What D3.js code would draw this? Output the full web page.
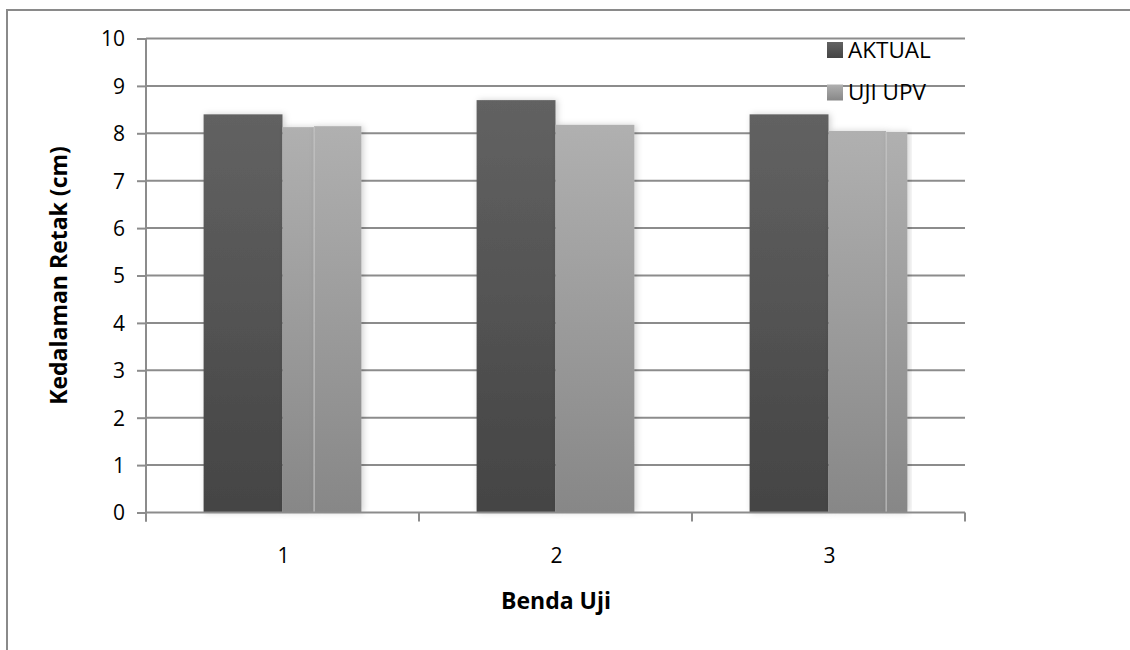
<!DOCTYPE html>
<html>
<head>
<meta charset="utf-8">
<script src="https://cdn.jsdelivr.net/npm/d3@7"></script>
<style>
  html, body { margin: 0; padding: 0; background: #fff; }
  svg { display: block; }
  text { font-family: "Open Sans", "Liberation Sans", sans-serif; fill: #000; }
</style>
</head>
<body>
<svg id="chart" width="1130" height="650"></svg>
<script>
// ---- data ----
const categories = ["1", "2", "3"];
const seriesNames = ["AKTUAL", "UJI UPV"];
const aktual = [8.4, 8.7, 8.4];
const ujiUpv = [8.13, 8.18, 8.05];
// second, overlapping UPV reading drawn on part of the UJI UPV bar
const ujiUpv2 = [8.15, null, 8.03];
const yTicks = [0, 1, 2, 3, 4, 5, 6, 7, 8, 9, 10];
const xTitle = "Benda Uji";
const yTitle = "Kedalaman Retak (cm)";

// ---- layout ----
const svg = d3.select("#chart");
const plot = { left: 146, right: 965, top: 38.5, bottom: 512.5 };
const overlapStart = [0.4, 0, 0.73]; // where the 2nd UPV reading starts inside the bar (fraction)

const x0 = d3.scaleBand().domain(categories).range([plot.left, plot.right]).padding(0);
const x1 = d3.scaleBand().domain(seriesNames).range([0, x0.bandwidth()])
  .paddingInner(0).paddingOuter(0.73);
const y = d3.scaleLinear().domain([0, 10]).range([plot.bottom, plot.top]);

const defs = svg.append("defs");
function grad(id, top, bottom) {
  const g = defs.append("linearGradient").attr("id", id)
    .attr("x1", 0).attr("y1", 0).attr("x2", 0).attr("y2", 1);
  g.append("stop").attr("offset", "0%").attr("stop-color", top);
  g.append("stop").attr("offset", "100%").attr("stop-color", bottom);
}
grad("gDark", "#626262", "#444444");
grad("gLight", "#b0b0b0", "#878787");
const f = defs.append("filter").attr("id", "shadow")
  .attr("x", "-20%").attr("y", "-5%").attr("width", "140%").attr("height", "110%");
f.append("feDropShadow").attr("dx", 2).attr("dy", 0).attr("stdDeviation", 3)
  .attr("flood-color", "#000").attr("flood-opacity", 0.18);

// frame
svg.append("rect").attr("x", 7).attr("y", 10).attr("width", 1140).attr("height", 660)
  .attr("fill", "#fff").attr("stroke", "#8a8a8a").attr("stroke-width", 2);

// gridlines
svg.append("g").selectAll("line").data(yTicks.filter(d => d > 0)).join("line")
  .attr("x1", plot.left).attr("x2", plot.right)
  .attr("y1", d => y(d)).attr("y2", d => y(d))
  .attr("stroke", "#8c8c8c").attr("stroke-width", 2);

// y axis
const yAxis = d3.axisLeft(y).tickValues(yTicks).tickSize(9).tickPadding(12).tickFormat(d3.format("d"));
const gy = svg.append("g").attr("transform", `translate(${plot.left},0)`).call(yAxis);
gy.select(".domain").remove();
gy.selectAll(".tick line").attr("stroke", "#8c8c8c").attr("stroke-width", 2);
gy.selectAll(".tick text").style("font-size", "21px").attr("dy", "0.35em");
svg.append("line").attr("x1", plot.left).attr("x2", plot.left)
  .attr("y1", plot.top).attr("y2", plot.bottom + 9)
  .attr("stroke", "#8c8c8c").attr("stroke-width", 2);

// bars
const gBars = svg.append("g");
categories.forEach((c, i) => {
  const bx = x0(c);
  gBars.append("rect")
    .attr("x", bx + x1("AKTUAL")).attr("y", y(aktual[i]))
    .attr("width", x1.bandwidth()).attr("height", y(0) - y(aktual[i]))
    .attr("fill", "url(#gDark)").attr("filter", "url(#shadow)");
  const ux = bx + x1("UJI UPV");
  const w = x1.bandwidth();
  if (ujiUpv2[i] == null) {
    gBars.append("rect")
      .attr("x", ux).attr("y", y(ujiUpv[i]))
      .attr("width", w).attr("height", y(0) - y(ujiUpv[i]))
      .attr("fill", "url(#gLight)").attr("filter", "url(#shadow)");
  } else {
    const split = ux + w * overlapStart[i];
    gBars.append("rect")
      .attr("x", ux).attr("y", y(ujiUpv[i]))
      .attr("width", split - ux).attr("height", y(0) - y(ujiUpv[i]))
      .attr("fill", "url(#gLight)").attr("filter", "url(#shadow)");
    gBars.append("rect")
      .attr("x", split).attr("y", y(ujiUpv2[i]))
      .attr("width", ux + w - split).attr("height", y(0) - y(ujiUpv2[i]))
      .attr("fill", "url(#gLight)").attr("filter", "url(#shadow)");
    gBars.append("line")
      .attr("x1", split).attr("x2", split)
      .attr("y1", y(Math.min(ujiUpv[i], ujiUpv2[i]))).attr("y2", y(0))
      .attr("stroke", "#c8c8c8").attr("stroke-width", 1);
  }
});

// x axis
const boundaries = categories.map(c => x0(c)).concat([plot.right]);
svg.append("line").attr("x1", plot.left).attr("x2", plot.right)
  .attr("y1", plot.bottom).attr("y2", plot.bottom)
  .attr("stroke", "#8c8c8c").attr("stroke-width", 2);
svg.append("g").selectAll("line").data(boundaries).join("line")
  .attr("x1", d => d).attr("x2", d => d)
  .attr("y1", plot.bottom).attr("y2", plot.bottom + 9)
  .attr("stroke", "#8c8c8c").attr("stroke-width", 2);
svg.append("g").selectAll("text").data(categories).join("text")
  .attr("x", d => x0(d) + x0.bandwidth() / 2 + 1)
  .attr("y", 563)
  .attr("text-anchor", "middle").style("font-size", "21px")
  .text(d => d);

// axis titles
svg.append("text").attr("x", 556).attr("y", 609).attr("text-anchor", "middle")
  .style("font-size", "23px").style("font-weight", "bold").text(xTitle);
svg.append("text").attr("transform", `translate(67,${(plot.top + plot.bottom) / 2}) rotate(-90)`)
  .attr("text-anchor", "middle")
  .style("font-size", "23px").style("font-weight", "bold").text(yTitle);

// legend
const legend = svg.append("g");
const legendFills = ["url(#gDark)", "url(#gLight)"];
const legendY = [50, 92.5];
seriesNames.forEach((n, i) => {
  legend.append("rect").attr("x", 827).attr("y", legendY[i] - 8).attr("width", 16).attr("height", 16)
    .attr("fill", legendFills[i]);
  legend.append("text").attr("x", 848).attr("y", legendY[i]).attr("dy", "0.35em")
    .style("font-size", "22.5px").text(n);
});
</script>
</body>
</html>
